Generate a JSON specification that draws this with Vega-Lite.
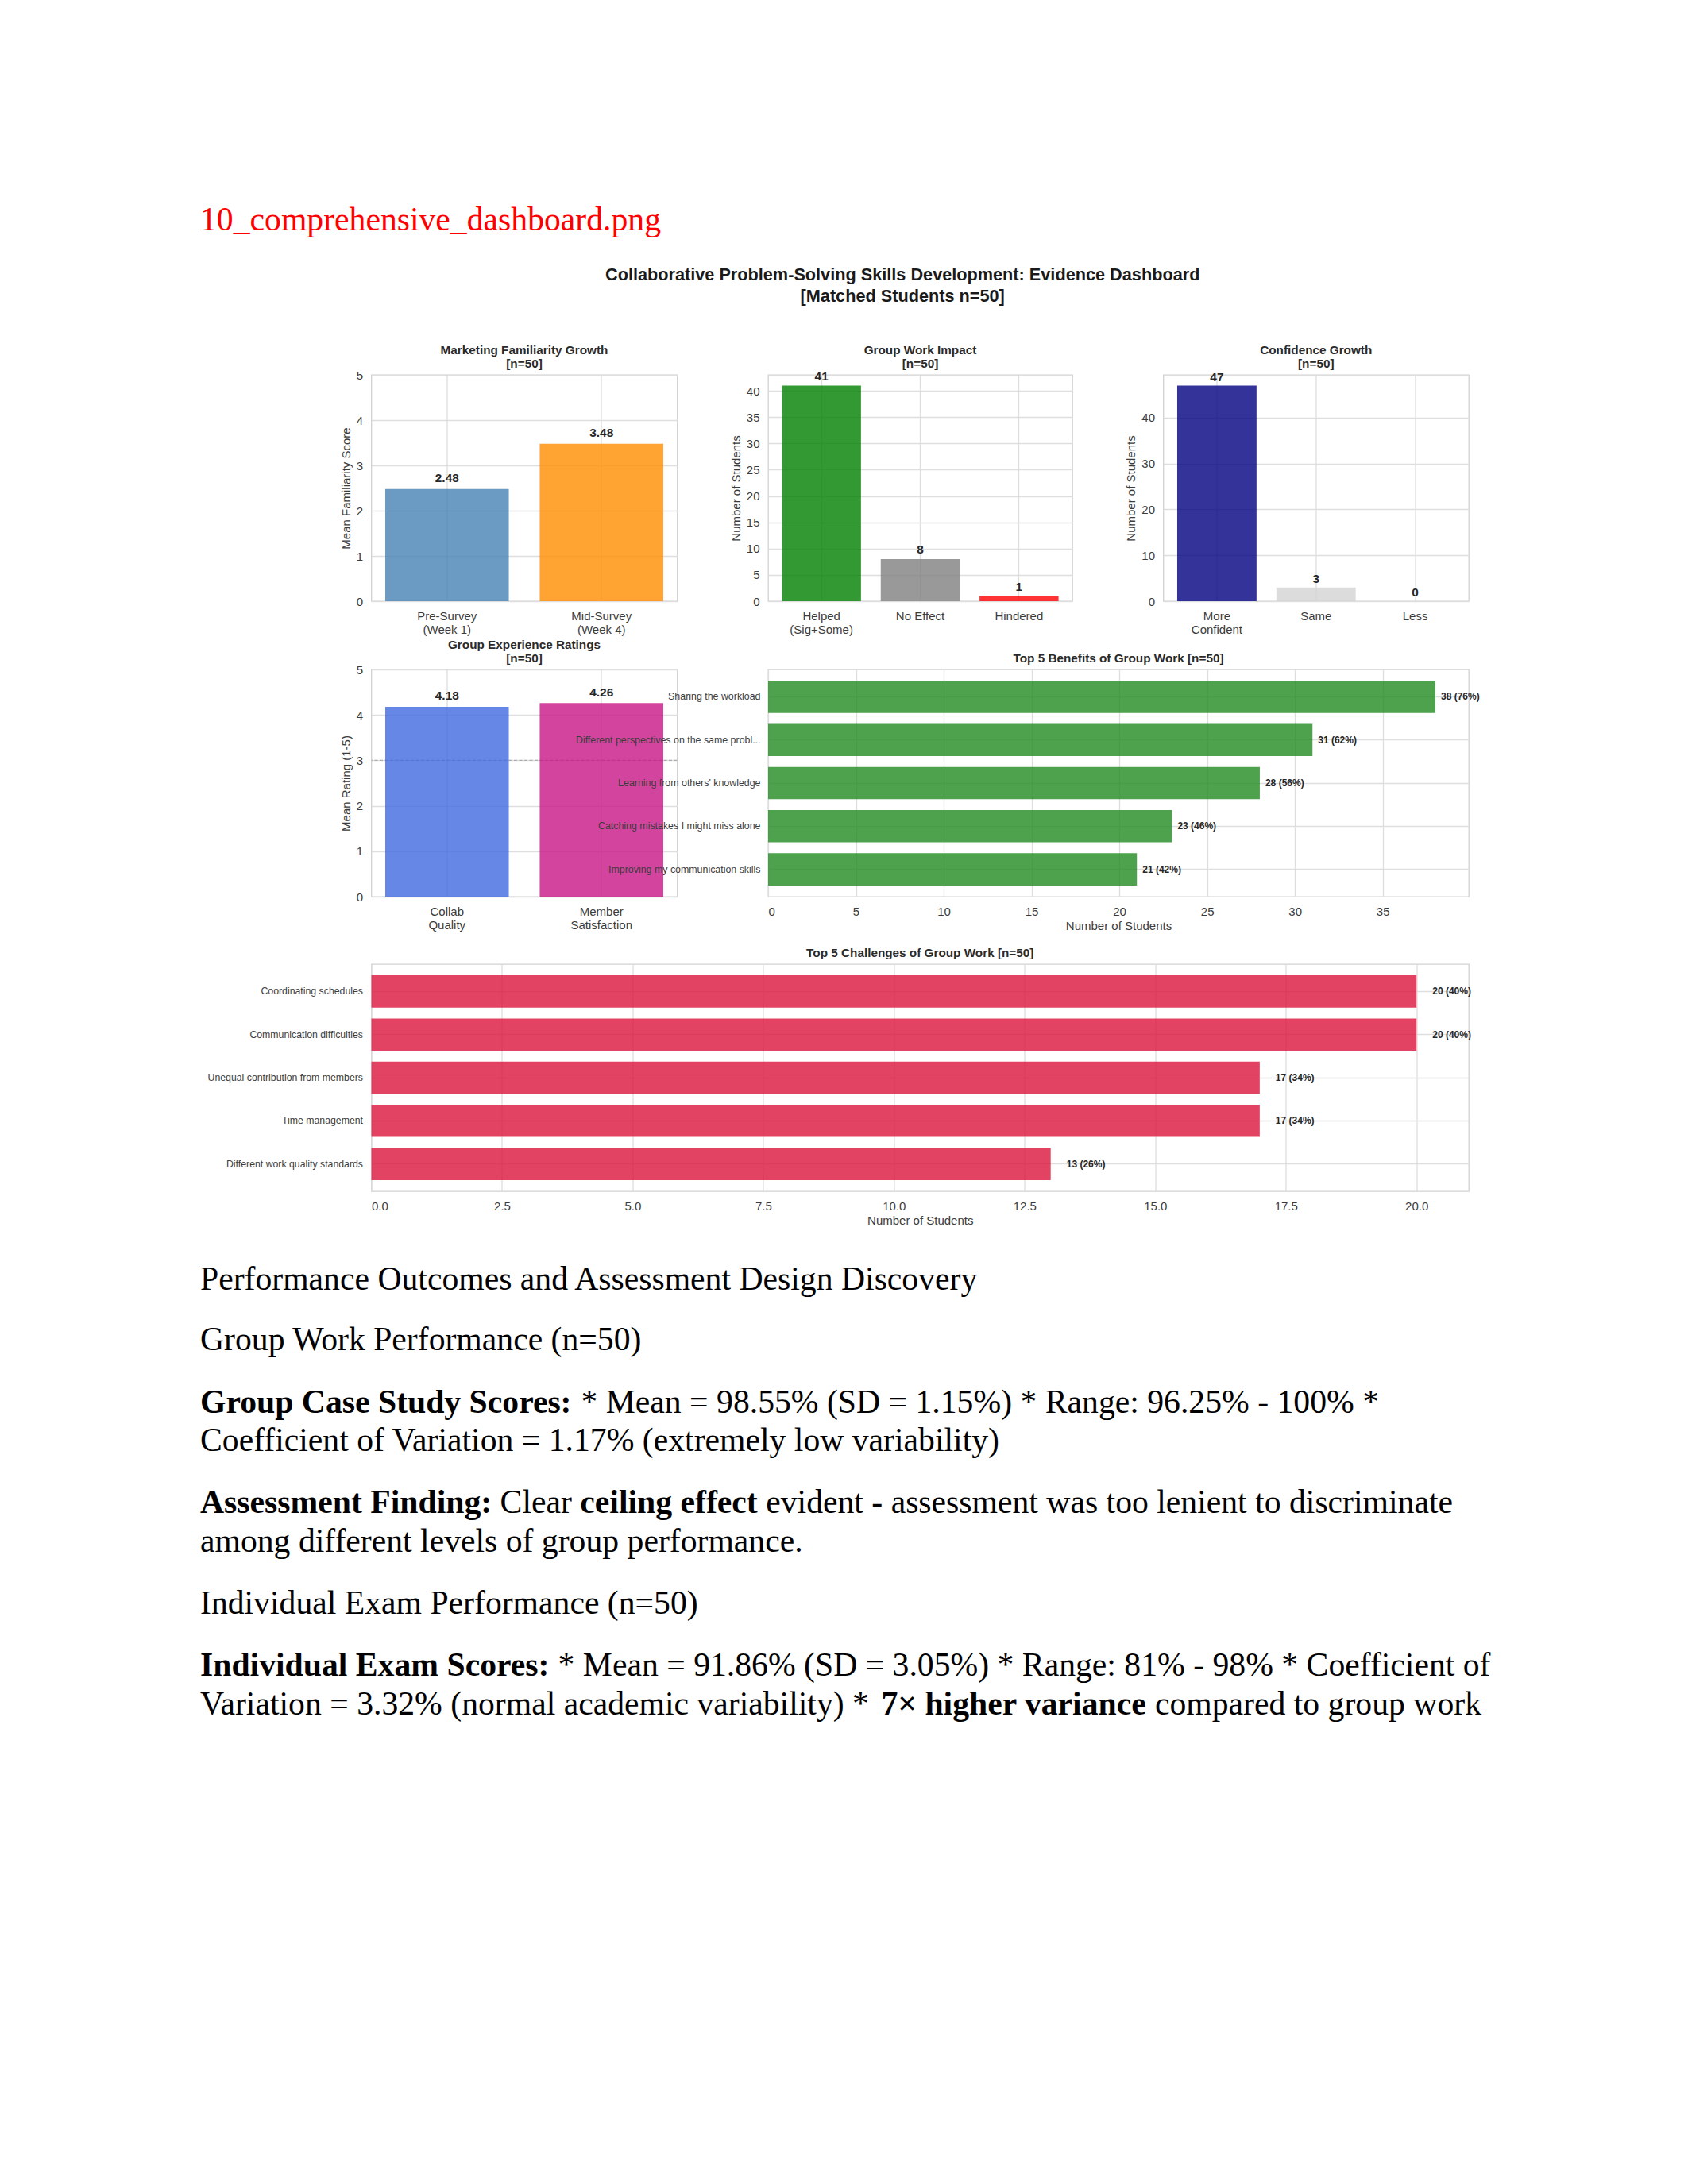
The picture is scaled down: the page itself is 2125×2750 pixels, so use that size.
{
  "$schema": "https://vega.github.io/schema/vega-lite/v6.json",
  "background": "white",
  "padding": {"left": 252, "top": 257, "right": 0, "bottom": 0},
  "title": {"text": "10_comprehensive_dashboard.png", "anchor": "start", "frame": "bounds", "font": "Liberation Serif", "fontSize": 41.7, "fontWeight": "normal", "color": "#ff0000", "offset": 37},
  "spacing": 29.5,
  "vconcat": [
    {
      "title": {"text": ["Collaborative Problem-Solving Skills Development: Evidence Dashboard", "[Matched Students n=50]"], "anchor": "middle", "frame": "bounds", "fontSize": 21.7, "lineHeight": 27, "color": "#1a1a1a", "dx": 78.5, "offset": 48.5},
      "spacing": 0,
      "vconcat": [
        {
          "bounds": "flush",
          "spacing": 114.5,
          "resolve": {"scale": {"color": "independent"}},
          "hconcat": [
            {"width": 101, "height": 332, "view": {"stroke": null}, "data": {"values": []}, "mark": "point"},
            {
              "width": 385, "height": 285,
              "title": {"text": ["Marketing Familiarity Growth", "[n=50]"], "offset": -1.5},
              "data": {"values": [
                {"period": "Pre-Survey\n(Week 1)", "score": 2.48},
                {"period": "Mid-Survey\n(Week 4)", "score": 3.48}
              ]},
              "encoding": {
                "x": {"field": "period", "type": "nominal", "sort": null, "scale": {"paddingInner": 0.2, "paddingOuter": 0.09}, "axis": {"title": null, "labelAngle": 0, "labelExpr": "split(datum.label, '\\n')", "bandPosition": 0.5}},
                "y": {"field": "score", "type": "quantitative", "scale": {"domain": [0, 5], "nice": false}, "axis": {"title": "Mean Familiarity Score", "values": [0, 1, 2, 3, 4, 5], "format": "d"}}
              },
              "layer": [
                {"mark": {"type": "bar", "opacity": 0.8}, "encoding": {"color": {"field": "period", "type": "nominal", "sort": null, "scale": {"range": ["#4682b4", "#ff8c00"]}, "legend": null}}},
                {"mark": {"type": "text", "fontWeight": "bold", "fontSize": 15.4, "baseline": "alphabetic", "dy": -8.5, "color": "#262626"}, "encoding": {"text": {"field": "score", "type": "quantitative", "format": ".2f"}}}
              ]
            },
            {
              "width": 383, "height": 285,
              "title": {"text": ["Group Work Impact", "[n=50]"], "offset": 1},
              "data": {"values": [
                {"impact": "Helped\n(Sig+Some)", "students": 41},
                {"impact": "No Effect", "students": 8},
                {"impact": "Hindered", "students": 1}
              ]},
              "encoding": {
                "x": {"field": "impact", "type": "nominal", "sort": null, "scale": {"paddingInner": 0.2, "paddingOuter": 0.14}, "axis": {"title": null, "labelAngle": 0, "labelExpr": "split(datum.label, '\\n')", "bandPosition": 0.5}},
                "y": {"field": "students", "type": "quantitative", "scale": {"domain": [0, 43.05], "nice": false}, "axis": {"title": "Number of Students", "values": [0, 5, 10, 15, 20, 25, 30, 35, 40]}}
              },
              "layer": [
                {"mark": {"type": "bar", "opacity": 0.8}, "encoding": {"color": {"field": "impact", "type": "nominal", "sort": null, "scale": {"range": ["#008000", "#808080", "#ff0000"]}, "legend": null}}},
                {"mark": {"type": "text", "fontWeight": "bold", "fontSize": 15.4, "baseline": "alphabetic", "dy": -6.7, "color": "#262626"}, "encoding": {"text": {"field": "students", "type": "quantitative"}}}
              ]
            },
            {
              "width": 384.5, "height": 285,
              "title": {"text": ["Confidence Growth", "[n=50]"], "offset": 1},
              "data": {"values": [
                {"confidence": "More\nConfident", "students": 47},
                {"confidence": "Same", "students": 3},
                {"confidence": "Less", "students": 0}
              ]},
              "encoding": {
                "x": {"field": "confidence", "type": "nominal", "sort": null, "scale": {"paddingInner": 0.2, "paddingOuter": 0.14}, "axis": {"title": null, "labelAngle": 0, "labelExpr": "split(datum.label, '\\n')", "bandPosition": 0.5}},
                "y": {"field": "students", "type": "quantitative", "scale": {"domain": [0, 49.35], "nice": false}, "axis": {"title": "Number of Students", "values": [0, 10, 20, 30, 40]}}
              },
              "layer": [
                {"mark": {"type": "bar", "opacity": 0.8}, "encoding": {"color": {"field": "confidence", "type": "nominal", "sort": null, "scale": {"range": ["#000080", "#d3d3d3", "#b22222"]}, "legend": null}}},
                {"mark": {"type": "text", "fontWeight": "bold", "fontSize": 15.4, "baseline": "alphabetic", "dy": -5.8, "color": "#262626"}, "encoding": {"text": {"field": "students", "type": "quantitative"}}}
              ]
            }
          ]
        },
        {
          "bounds": "flush",
          "spacing": 114.5,
          "resolve": {"scale": {"color": "independent"}},
          "hconcat": [
            {"width": 101, "height": 349, "view": {"stroke": null}, "data": {"values": []}, "mark": "point"},
            {
              "width": 385, "height": 286,
              "title": {"text": ["Group Experience Ratings", "[n=50]"], "offset": -1.5},
              "layer": [
                {
                  "data": {"values": [{"neutral": 3}]},
                  "mark": {"type": "rule", "color": "#999999", "opacity": 0.7, "strokeDash": [4, 2.5], "strokeWidth": 1.4},
                  "encoding": {"y": {"field": "neutral", "type": "quantitative", "scale": {"domain": [0, 5], "nice": false}, "axis": {"title": "Mean Rating (1-5)", "values": [0, 1, 2, 3, 4, 5], "format": "d"}}}
                },
                {
                  "data": {"values": [
                    {"measure": "Collab\nQuality", "rating": 4.18},
                    {"measure": "Member\nSatisfaction", "rating": 4.26}
                  ]},
                  "encoding": {
                    "x": {"field": "measure", "type": "nominal", "sort": null, "scale": {"paddingInner": 0.2, "paddingOuter": 0.09}, "axis": {"title": null, "labelAngle": 0, "labelExpr": "split(datum.label, '\\n')", "bandPosition": 0.5}},
                    "y": {"field": "rating", "type": "quantitative", "scale": {"domain": [0, 5], "nice": false}, "axis": {"title": "Mean Rating (1-5)", "values": [0, 1, 2, 3, 4, 5], "format": "d"}}
                  },
                  "layer": [
                    {"mark": {"type": "bar", "opacity": 0.8}, "encoding": {"color": {"field": "measure", "type": "nominal", "sort": null, "scale": {"range": ["#4169e1", "#c71585"]}, "legend": null}}},
                    {"mark": {"type": "text", "fontWeight": "bold", "fontSize": 15.4, "baseline": "alphabetic", "dy": -8.5, "color": "#262626"}, "encoding": {"text": {"field": "rating", "type": "quantitative", "format": ".2f"}}}
                  ]
                }
              ]
            },
            {
              "width": 882, "height": 286,
              "title": "Top 5 Benefits of Group Work [n=50]",
              "data": {"values": [
                {"benefit": "Sharing the workload", "students": 38, "label": "38 (76%)"},
                {"benefit": "Different perspectives on the same probl...", "students": 31, "label": "31 (62%)"},
                {"benefit": "Learning from others' knowledge", "students": 28, "label": "28 (56%)"},
                {"benefit": "Catching mistakes I might miss alone", "students": 23, "label": "23 (46%)"},
                {"benefit": "Improving my communication skills", "students": 21, "label": "21 (42%)"}
              ]},
              "encoding": {
                "y": {"field": "benefit", "type": "nominal", "sort": null, "scale": {"paddingInner": 0.25, "paddingOuter": 0.26}, "axis": {"title": null, "labelFontSize": 12.4, "labelPadding": 10, "labelLimit": 400, "bandPosition": 0.5}},
                "x": {"field": "students", "type": "quantitative", "scale": {"domain": [0, 39.9], "nice": false}, "axis": {"title": "Number of Students", "values": [0, 5, 10, 15, 20, 25, 30, 35], "titlePadding": 3}}
              },
              "layer": [
                {"mark": {"type": "bar", "color": "#228b22", "opacity": 0.8}},
                {"mark": {"type": "text", "align": "left", "baseline": "middle", "dx": 7, "fontSize": 12, "fontWeight": "bold", "color": "#262626"}, "encoding": {"text": {"field": "label"}}}
              ]
            }
          ]
        },
        {
          "bounds": "flush",
          "spacing": 114.5,
          "hconcat": [
            {"width": 101, "height": 344.25, "view": {"stroke": null}, "data": {"values": []}, "mark": "point"},
            {
              "width": 1381.5, "height": 286,
              "title": "Top 5 Challenges of Group Work [n=50]",
              "data": {"values": [
                {"challenge": "Coordinating schedules", "students": 20, "label": "20 (40%)"},
                {"challenge": "Communication difficulties", "students": 20, "label": "20 (40%)"},
                {"challenge": "Unequal contribution from members", "students": 17, "label": "17 (34%)"},
                {"challenge": "Time management", "students": 17, "label": "17 (34%)"},
                {"challenge": "Different work quality standards", "students": 13, "label": "13 (26%)"}
              ]},
              "encoding": {
                "y": {"field": "challenge", "type": "nominal", "sort": null, "scale": {"paddingInner": 0.25, "paddingOuter": 0.26}, "axis": {"title": null, "labelFontSize": 12.3, "labelPadding": 11, "labelLimit": 400, "bandPosition": 0.5}},
                "x": {"field": "students", "type": "quantitative", "scale": {"domain": [0, 21], "nice": false}, "axis": {"title": "Number of Students", "values": [0, 2.5, 5, 7.5, 10, 12.5, 15, 17.5, 20], "format": ".1f", "titlePadding": 3}}
              },
              "layer": [
                {"mark": {"type": "bar", "color": "#dc143c", "opacity": 0.8}},
                {"mark": {"type": "text", "align": "left", "baseline": "middle", "dx": 20, "fontSize": 12, "fontWeight": "bold", "color": "#262626"}, "encoding": {"text": {"field": "label"}}}
              ]
            }
          ]
        }
      ]
    },
    {
      "width": 1650, "height": 45, "view": {"stroke": null},
      "encoding": {
        "x": {"datum": 0, "type": "quantitative", "scale": {"domain": [0, 1]}, "axis": null},
        "y": {"field": "line", "type": "nominal", "axis": null}
      },
      "layer": [
        {"data": {"values": [{"line": "1", "t": "Performance Outcomes and Assessment Design Discovery"}]}, "mark": {"type": "text", "align": "left", "baseline": "middle", "font": "Liberation Serif", "fontSize": 41.7, "color": "#000000"}, "encoding": {"text": {"field": "t"}}}
      ]
    },
    {
      "width": 1650, "height": 48.5, "view": {"stroke": null},
      "encoding": {
        "x": {"datum": 0, "type": "quantitative", "scale": {"domain": [0, 1]}, "axis": null},
        "y": {"field": "line", "type": "nominal", "axis": null}
      },
      "layer": [
        {"data": {"values": [{"line": "1", "t": "Group Work Performance (n=50)"}]}, "mark": {"type": "text", "align": "left", "baseline": "middle", "font": "Liberation Serif", "fontSize": 41.7, "color": "#000000"}, "encoding": {"text": {"field": "t"}}}
      ]
    },
    {
      "width": 1650, "height": 97, "view": {"stroke": null},
      "encoding": {
        "x": {"datum": 0, "type": "quantitative", "scale": {"domain": [0, 1]}, "axis": null},
        "y": {"field": "line", "type": "nominal", "axis": null}
      },
      "layer": [
        {"data": {"values": [{"line": "1", "t": "Group Case Study Scores:"}]}, "mark": {"type": "text", "align": "left", "baseline": "middle", "font": "Liberation Serif", "fontSize": 41.7, "fontWeight": "bold", "color": "#000000"}, "encoding": {"text": {"field": "t"}}},
        {"data": {"values": [{"line": "1", "t": "* Mean = 98.55% (SD = 1.15%) * Range: 96.25% - 100% *"}]}, "mark": {"type": "text", "align": "left", "baseline": "middle", "dx": 479.5, "font": "Liberation Serif", "fontSize": 41.7, "color": "#000000"}, "encoding": {"text": {"field": "t"}}},
        {"data": {"values": [{"line": "2", "t": "Coefficient of Variation = 1.17% (extremely low variability)"}]}, "mark": {"type": "text", "align": "left", "baseline": "middle", "font": "Liberation Serif", "fontSize": 41.7, "color": "#000000"}, "encoding": {"text": {"field": "t"}}}
      ]
    },
    {
      "width": 1650, "height": 97, "view": {"stroke": null},
      "encoding": {
        "x": {"datum": 0, "type": "quantitative", "scale": {"domain": [0, 1]}, "axis": null},
        "y": {"field": "line", "type": "nominal", "axis": null}
      },
      "layer": [
        {"data": {"values": [{"line": "1", "t": "Assessment Finding:"}]}, "mark": {"type": "text", "align": "left", "baseline": "middle", "font": "Liberation Serif", "fontSize": 41.7, "fontWeight": "bold", "color": "#000000"}, "encoding": {"text": {"field": "t"}}},
        {"data": {"values": [{"line": "1", "t": "Clear"}]}, "mark": {"type": "text", "align": "left", "baseline": "middle", "dx": 377.6, "font": "Liberation Serif", "fontSize": 41.7, "color": "#000000"}, "encoding": {"text": {"field": "t"}}},
        {"data": {"values": [{"line": "1", "t": "ceiling effect"}]}, "mark": {"type": "text", "align": "left", "baseline": "middle", "dx": 478.3, "font": "Liberation Serif", "fontSize": 41.7, "fontWeight": "bold", "color": "#000000"}, "encoding": {"text": {"field": "t"}}},
        {"data": {"values": [{"line": "1", "t": "evident - assessment was too lenient to discriminate"}]}, "mark": {"type": "text", "align": "left", "baseline": "middle", "dx": 712.2, "font": "Liberation Serif", "fontSize": 41.7, "color": "#000000"}, "encoding": {"text": {"field": "t"}}},
        {"data": {"values": [{"line": "2", "t": "among different levels of group performance."}]}, "mark": {"type": "text", "align": "left", "baseline": "middle", "font": "Liberation Serif", "fontSize": 41.7, "color": "#000000"}, "encoding": {"text": {"field": "t"}}}
      ]
    },
    {
      "width": 1650, "height": 48.5, "view": {"stroke": null},
      "encoding": {
        "x": {"datum": 0, "type": "quantitative", "scale": {"domain": [0, 1]}, "axis": null},
        "y": {"field": "line", "type": "nominal", "axis": null}
      },
      "layer": [
        {"data": {"values": [{"line": "1", "t": "Individual Exam Performance (n=50)"}]}, "mark": {"type": "text", "align": "left", "baseline": "middle", "font": "Liberation Serif", "fontSize": 41.7, "color": "#000000"}, "encoding": {"text": {"field": "t"}}}
      ]
    },
    {
      "width": 1650, "height": 97, "view": {"stroke": null},
      "encoding": {
        "x": {"datum": 0, "type": "quantitative", "scale": {"domain": [0, 1]}, "axis": null},
        "y": {"field": "line", "type": "nominal", "axis": null}
      },
      "layer": [
        {"data": {"values": [{"line": "1", "t": "Individual Exam Scores:"}]}, "mark": {"type": "text", "align": "left", "baseline": "middle", "font": "Liberation Serif", "fontSize": 41.7, "fontWeight": "bold", "color": "#000000"}, "encoding": {"text": {"field": "t"}}},
        {"data": {"values": [{"line": "1", "t": "* Mean = 91.86% (SD = 3.05%) * Range: 81% - 98% * Coefficient of"}]}, "mark": {"type": "text", "align": "left", "baseline": "middle", "dx": 450.6, "font": "Liberation Serif", "fontSize": 41.7, "color": "#000000"}, "encoding": {"text": {"field": "t"}}},
        {"data": {"values": [{"line": "2", "t": "Variation = 3.32% (normal academic variability) *"}]}, "mark": {"type": "text", "align": "left", "baseline": "middle", "font": "Liberation Serif", "fontSize": 41.7, "color": "#000000"}, "encoding": {"text": {"field": "t"}}},
        {"data": {"values": [{"line": "2", "t": "7× higher variance"}]}, "mark": {"type": "text", "align": "left", "baseline": "middle", "dx": 857.4, "font": "Liberation Serif", "fontSize": 41.7, "fontWeight": "bold", "color": "#000000"}, "encoding": {"text": {"field": "t"}}},
        {"data": {"values": [{"line": "2", "t": "compared to group work"}]}, "mark": {"type": "text", "align": "left", "baseline": "middle", "dx": 1202, "font": "Liberation Serif", "fontSize": 41.7, "color": "#000000"}, "encoding": {"text": {"field": "t"}}}
      ]
    }
  ],
  "config": {
    "font": "Liberation Sans",
    "view": {"stroke": "#d2d2d2", "strokeWidth": 1.3},
    "axis": {"labelFont": "Liberation Sans", "titleFont": "Liberation Sans", "labelFontSize": 15, "titleFontSize": 15, "titleFontWeight": "normal", "labelColor": "#3c3c3c", "titleColor": "#3c3c3c", "domain": false, "ticks": false, "grid": true, "gridColor": "#dedede", "gridWidth": 1.3, "labelPadding": 11, "titlePadding": 5, "labelLineHeight": 17},
    "title": {"font": "Liberation Sans", "fontSize": 15.3, "fontWeight": "bold", "color": "#2a2a2a", "lineHeight": 17, "offset": 6}
  }
}
